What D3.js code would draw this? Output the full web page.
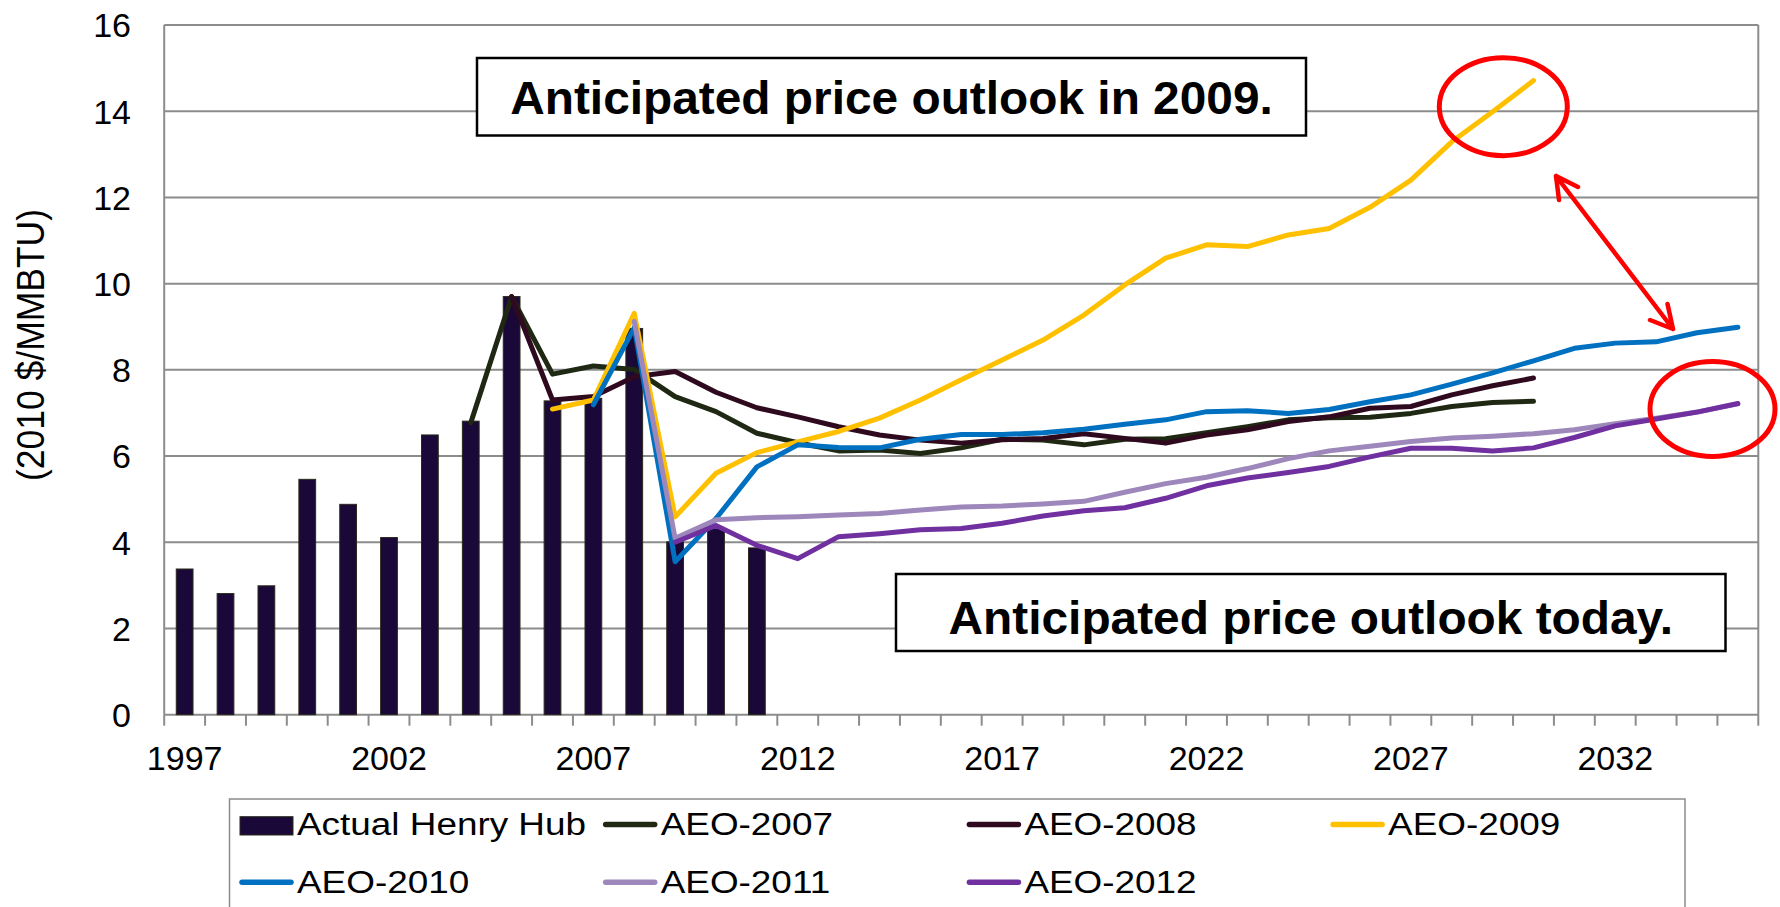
<!DOCTYPE html>
<html>
<head>
<meta charset="utf-8">
<script src="https://cdn.jsdelivr.net/npm/d3@7"></script>
<style>
html,body{margin:0;padding:0;background:#fff;}
svg{display:block;font-family:"Liberation Sans",Arial,sans-serif;}
</style>
</head>
<body>
<svg id="chart" width="1780" height="907"></svg>
<script>
// ---------- DATA ----------
const years = [1997,1998,1999,2000,2001,2002,2003,2004,2005,2006,2007,2008,2009,2010,2011,2012,2013,2014,2015,2016,2017,2018,2019,2020,2021,2022,2023,2024,2025,2026,2027,2028,2029,2030,2031,2032,2033,2034,2035];
const xTickLabels = [1997,2002,2007,2012,2017,2022,2027,2032];
const yTicks = [0,2,4,6,8,10,12,14,16];

const actualStart = 1997;
const actualHenryHub = [3.38,2.81,2.99,5.46,4.88,4.11,6.49,6.81,9.70,7.28,7.34,8.96,4.01,4.32,3.87];

const aeo2007Start = 2004;
const aeo2007 = [6.77,9.7,7.90,8.09,8.01,7.38,7.03,6.53,6.31,6.12,6.14,6.06,6.19,6.39,6.37,6.26,6.39,6.40,6.54,6.68,6.84,6.89,6.90,6.99,7.15,7.24,7.27];

const aeo2008Start = 2005;
const aeo2008 = [9.7,7.30,7.38,7.84,7.96,7.48,7.12,6.91,6.68,6.49,6.37,6.30,6.38,6.41,6.52,6.41,6.30,6.49,6.61,6.80,6.91,7.11,7.15,7.42,7.63,7.81];

const aeo2009Start = 2006;
const aeo2009 = [7.09,7.30,9.31,4.59,5.60,6.08,6.33,6.57,6.88,7.30,7.77,8.23,8.69,9.27,9.97,10.59,10.90,10.86,11.13,11.28,11.77,12.40,13.29,13.99,14.71];

const aeo2010Start = 2007;
const aeo2010 = [7.19,8.98,3.55,4.55,5.75,6.26,6.20,6.19,6.39,6.50,6.50,6.54,6.62,6.74,6.84,7.03,7.05,6.99,7.08,7.26,7.42,7.67,7.93,8.21,8.50,8.62,8.65,8.86,8.99];

const aeo2011Start = 2008;
const aeo2011 = [9.12,4.09,4.52,4.57,4.59,4.63,4.67,4.75,4.82,4.84,4.89,4.95,5.16,5.36,5.51,5.71,5.94,6.12,6.23,6.34,6.42,6.46,6.52,6.61,6.75,6.88,7.02,7.21];

const aeo2012Start = 2009;
const aeo2012 = [4.0,4.39,3.93,3.62,4.13,4.20,4.29,4.32,4.44,4.61,4.73,4.80,5.02,5.31,5.49,5.62,5.76,5.98,6.18,6.18,6.12,6.19,6.43,6.70,6.86,7.02,7.22];

const seriesNames = ["AEO-2007","AEO-2008","AEO-2009","AEO-2010","AEO-2011","AEO-2012"];
const seriesColors = ["#1f2812","#2f0a1e","#ffc000","#0070c0","#9d87bb","#7030a0"];
const barName = "Actual Henry Hub";
const barColor = "#1a0838";

const note2009 = "Anticipated price outlook in 2009.";
const noteToday = "Anticipated price outlook today.";
const yTitle = "(2010 $/MMBTU)";

// ---------- SETUP ----------
const svg = d3.select("#chart");
const plotL = 164.2, plotR = 1758.3, plotT = 25, plotB = 714.7;
const x = d3.scaleBand().domain(years).range([plotL, plotR]).padding(0);
const y = d3.scaleLinear().domain([0,16]).range([plotB, plotT]);
const cx = yr => x(yr) + x.bandwidth()/2;
const gridColor = "#8c8c8c";

// gridlines
svg.append("g").selectAll("line").data(yTicks).join("line")
  .attr("x1", plotL).attr("x2", plotR)
  .attr("y1", d => y(d)).attr("y2", d => y(d))
  .attr("stroke", gridColor).attr("stroke-width", 2);

// plot frame (left & right)
svg.append("line").attr("x1", plotL).attr("x2", plotL).attr("y1", plotT).attr("y2", plotB)
  .attr("stroke", gridColor).attr("stroke-width", 2);
svg.append("line").attr("x1", plotR).attr("x2", plotR).attr("y1", plotT).attr("y2", plotB)
  .attr("stroke", gridColor).attr("stroke-width", 2);

// x tick marks at category boundaries
const boundaries = years.map(d => x(d)).concat([plotR]);
svg.append("g").selectAll("line").data(boundaries).join("line")
  .attr("x1", d => d).attr("x2", d => d)
  .attr("y1", plotB).attr("y2", plotB + 11)
  .attr("stroke", gridColor).attr("stroke-width", 2);

// y tick labels
svg.append("g").selectAll("text").data(yTicks).join("text")
  .attr("x", 131).attr("y", d => y(d) + 12.3)
  .attr("text-anchor", "end").attr("font-size", 34).attr("fill", "#000")
  .text(d => d);

// x tick labels
svg.append("g").selectAll("text").data(xTickLabels).join("text")
  .attr("x", d => cx(d)).attr("y", 770)
  .attr("text-anchor", "middle").attr("font-size", 34).attr("fill", "#000")
  .text(d => d);

// y title
svg.append("text")
  .attr("transform", "translate(44,345) scale(1.1,1) rotate(-90)")
  .attr("text-anchor", "middle").attr("font-size", 35.5).attr("fill", "#000")
  .text(yTitle);

// bars
const barData = actualHenryHub.map((v,i) => ({year: actualStart + i, v}));
const bw = x.bandwidth() * 0.41;
svg.append("g").selectAll("rect").data(barData).join("rect")
  .attr("x", d => cx(d.year) - bw/2).attr("width", bw)
  .attr("y", d => y(d.v)).attr("height", d => plotB - y(d.v))
  .attr("fill", barColor).attr("stroke", "#2a2a1c").attr("stroke-width", 1);

// lines
const allSeries = [
  {start: aeo2007Start, vals: aeo2007},
  {start: aeo2008Start, vals: aeo2008},
  {start: aeo2009Start, vals: aeo2009},
  {start: aeo2010Start, vals: aeo2010},
  {start: aeo2011Start, vals: aeo2011},
  {start: aeo2012Start, vals: aeo2012}
];
const line = d3.line().x(d => cx(d.year)).y(d => y(d.v));
allSeries.forEach((s, i) => {
  const pts = s.vals.map((v,j) => ({year: s.start + j, v}));
  svg.append("path").datum(pts)
    .attr("d", line).attr("fill", "none")
    .attr("stroke", seriesColors[i]).attr("stroke-width", 5)
    .attr("stroke-linejoin", "round").attr("stroke-linecap", "round");
});

// annotation boxes
function noteBox(bx, by, bw2, bh, txt, baseline) {
  svg.append("rect").attr("x", bx).attr("y", by).attr("width", bw2).attr("height", bh)
    .attr("fill", "#fff").attr("stroke", "#000").attr("stroke-width", 2.5);
  svg.append("text")
    .attr("transform", `translate(${bx + bw2/2},${baseline}) scale(1.04,1)`)
    .attr("text-anchor", "middle").attr("font-size", 46).attr("font-weight", "bold")
    .attr("fill", "#000").text(txt);
}
noteBox(477, 58, 829, 77.5, note2009, 113.5);
noteBox(896, 574, 829.5, 77, noteToday, 634);

// red ellipses
svg.append("ellipse").attr("cx", 1503.3).attr("cy", 106.7).attr("rx", 64).attr("ry", 49)
  .attr("fill", "none").attr("stroke", "#ff0000").attr("stroke-width", 5);
svg.append("ellipse").attr("cx", 1712.5).attr("cy", 409).attr("rx", 62.5).attr("ry", 47.5)
  .attr("fill", "none").attr("stroke", "#ff0000").attr("stroke-width", 5);

// red double arrow
const arrowPath = "M1556,176 L1673,329 M1578,187 L1556,176 L1559,200 M1667.5,304 L1673,329 L1650,320";
svg.append("path").attr("d", arrowPath).attr("fill", "none")
  .attr("stroke", "#ff0000").attr("stroke-width", 4.5)
  .attr("stroke-linecap", "round").attr("stroke-linejoin", "round");

// legend
svg.append("rect").attr("x", 229.5).attr("y", 799).attr("width", 1455.5).attr("height", 110)
  .attr("fill", "#fff").attr("stroke", gridColor).attr("stroke-width", 1.5);
const legendItems = [
  {name: barName, type: "bar", color: barColor},
  {name: seriesNames[0], type: "line", color: seriesColors[0]},
  {name: seriesNames[1], type: "line", color: seriesColors[1]},
  {name: seriesNames[2], type: "line", color: seriesColors[2]},
  {name: seriesNames[3], type: "line", color: seriesColors[3]},
  {name: seriesNames[4], type: "line", color: seriesColors[4]},
  {name: seriesNames[5], type: "line", color: seriesColors[5]}
];
legendItems.forEach((it, i) => {
  const col = i % 4, row = Math.floor(i / 4);
  const lx = 240 + col * 363.7;
  const base = 835 + row * 57.7;
  const g = svg.append("g");
  if (it.type === "bar") {
    g.append("rect").attr("x", lx).attr("y", base - 18.3).attr("width", 53).attr("height", 18.3)
      .attr("fill", it.color).attr("stroke", "#2a2a1c").attr("stroke-width", 1);
  } else {
    g.append("line").attr("x1", lx + 2).attr("x2", lx + 51)
      .attr("y1", base - 10.5).attr("y2", base - 10.5)
      .attr("stroke", it.color).attr("stroke-width", 5.5).attr("stroke-linecap", "round");
  }
  g.append("text")
    .attr("transform", `translate(${lx + 57},${base}) scale(1.19,1)`)
    .attr("font-size", 31).attr("fill", "#000").text(it.name);
});
</script>
</body>
</html>
